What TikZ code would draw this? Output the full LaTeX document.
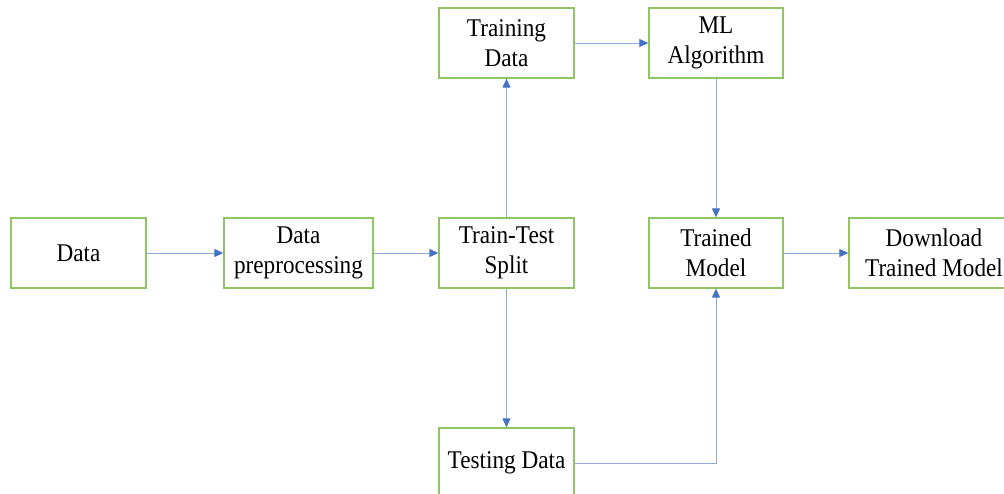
\documentclass[tikz,border=0pt]{standalone}
\usepackage{fontspec}
\setmainfont[FakeStretch=0.91]{Liberation Serif}
\usetikzlibrary{arrows.meta}
\definecolor{boxgreen}{HTML}{8DC663}
\definecolor{linblue}{HTML}{8EA9DB}
\definecolor{tipblue}{HTML}{4472C4}
\tikzset{
  stepbox/.style={draw=boxgreen, line width=1.3pt, fill=white, align=center,
    minimum height=70pt, inner sep=0pt,
    font=\fontsize{25.5}{30}\selectfont},
  conn/.style={draw=linblue, line width=1pt,
    -{Triangle[length=9pt,width=8pt,fill=tipblue,color=tipblue]}},
}
\begin{document}
\begin{tikzpicture}[x=1pt,y=-1pt]
\useasboundingbox (0,0) rectangle (1004,493);
\clip (0,0) rectangle (1004,493);
\node[stepbox, minimum width=135pt] (data) at (78.5,253) {Data};
\node[stepbox, minimum width=149pt] (prep) at (298.5,253) {Data\\preprocessing};
\node[stepbox, minimum width=135pt] (split) at (506.5,253) {Train-Test\\Split};
\node[stepbox, minimum width=135pt] (train) at (506.5,43) {Training\\Data};
\node[stepbox, minimum width=134pt] (ml) at (716,43) {ML\\Algorithm};
\node[stepbox, minimum width=134pt] (model) at (716,253) {Trained\\Model};
\node[stepbox, minimum width=170pt] (dl) at (934,253) {Download\\Trained Model};
\node[stepbox, minimum width=135pt, minimum height=70pt] (test) at (506.5,463) {Testing Data};
\draw[conn] (data) -- (prep);
\draw[conn] (prep) -- (split);
\draw[conn] (split) -- (train);
\draw[conn] (split) -- (test);
\draw[conn] (train) -- (ml);
\draw[conn] (ml) -- (model);
\draw[conn] (test.east) -| (model.south);
\draw[conn] (model) -- (dl);
\end{tikzpicture}
\end{document}
